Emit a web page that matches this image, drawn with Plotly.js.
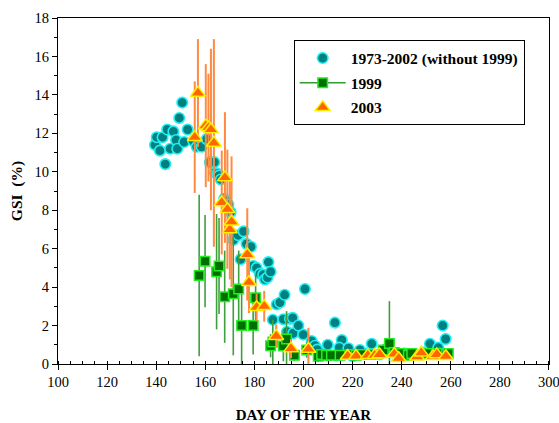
<!DOCTYPE html>
<html>
<head>
<meta charset="utf-8">
<script src="https://cdn.plot.ly/plotly-3.0.1.min.js"></script>
<style>html,body{margin:0;padding:0;background:#fff;}#chart{width:559px;height:423px;}</style>
</head>
<body>
<div id="chart"></div>
<script>
// 1973-2002 (without 1999)
var histDay = [139.5,140.2,141.5,142.6,143.7,144.5,145.7,147.0,148.1,148.6,149.4,150.6,151.4,152.8,155.1,156.5,158.5,160.6,161.9,163.7,164.0,164.9,165.6,166.3,167.7,168.3,169.4,170.3,171.4,173.4,174.4,175.6,176.8,178.6,179.5,180.9,182.3,183.6,184.3,185.3,185.7,186.6,189.1,190.4,192.3,187.5,191.8,194.5,195.6,193.3,195.8,197.9,199.9,200.6,203.3,204.7,205.6,208.0,209.9,212.8,213.5,215.6,214.6,218.3,220.0,223.0,226.0,227.8,231.0,236.0,241.0,245.0,249.0,251.5,254.9,255.5,256.7,257.9];
var histGSI = [11.4,11.8,11.1,11.8,10.4,12.2,11.2,12.1,11.65,11.2,12.8,13.6,11.55,12.2,11.6,11.3,11.3,11.7,10.5,10.5,9.95,9.9,9.8,9.6,8.6,8.5,8.3,7.9,6.45,6.7,5.45,6.9,6.25,6.1,5.1,5.0,4.7,4.65,4.4,4.5,5.3,4.8,3.1,3.2,3.6,2.3,2.33,2.35,2.4,1.68,1.6,2.0,1.53,3.9,1.2,0.95,0.75,0.5,1.0,2.15,0.45,1.25,0.85,0.82,0.4,0.73,0.55,1.05,0.5,0.6,0.55,0.5,0.6,1.05,0.85,0.55,2.0,1.3];

// 1999
var day1999 = [157.5,159.9,164.6,165.6,167.9,171.4,173.6,174.8,179.5,180.5,186.6,187.5,191.8,193.1,196.3,201.3,206.0,207.4,209.4,211.4,214.9,219.0,221.5,224.0,227.5,232.5,235.0,237.0,239.3,242.7,244.1,250.2,254.3,259.0];
var gsi1999 = [4.6,5.35,4.8,5.1,3.5,3.65,3.9,2.0,2.0,3.45,0.95,1.15,0.94,1.3,0.45,0.73,0.4,0.5,0.45,0.45,0.45,0.5,0.45,0.5,0.5,0.73,1.07,0.6,0.55,0.45,0.55,0.55,0.55,0.55];
var err1999 = [4.2,2.4,3.0,2.5,2.4,3.2,2.0,2.0,1.5,1.2,0.6,1.15,0.8,1.45,0.3,0.4,0.3,0.3,0.3,0.2,0.2,0.2,0.2,0.2,0.2,0.3,2.2,0.3,0.2,0.2,0.2,0.2,0.2,0.2];

// 2003
var day2003 = [155.7,157.0,160.2,161.3,162.3,163.5,166.7,168.0,169.0,170.0,170.7,177.1,177.8,180.9,184.0,188.9,194.9,202.0,218.0,221.4,226.2,229.0,231.0,237.0,238.8,246.3,248.0,252.8,254.3,258.0];
var gsi2003 = [11.8,14.1,12.4,12.3,12.2,11.5,8.4,9.7,8.05,7.0,7.4,5.7,4.25,2.95,3.0,1.45,0.8,0.78,0.42,0.42,0.45,0.45,0.5,0.52,0.3,0.38,0.58,0.4,0.5,0.4];
var err2003 = [2.9,2.8,3.2,2.8,4.2,5.4,2.7,3.4,3.1,2.6,3.4,2.4,1.6,0.7,0.8,0.6,0.5,1.1,0.1,0.1,0.1,0.15,0.1,0.1,0.1,0.1,0.1,0.1,0.1,0.1];

var legendNames = ['1973-2002 (without 1999)', '1999', '2003'];

var serif = 'Liberation Serif, Times New Roman, serif';

var traces = [
  {
    x: histDay, y: histGSI, type: 'scatter', mode: 'markers', name: legendNames[0],
    legendgroup: 'g1',
    marker: {symbol: 'circle', size: 10.5, color: '#008080', line: {color: '#22f0f0', width: 1.6}},
    cliponaxis: false
  },
  {
    x: day1999, y: gsi1999, type: 'scatter', mode: 'markers', name: legendNames[1], showlegend: false,
    legendgroup: 'g2',
    marker: {symbol: 'square', size: 9.5, color: '#006e00', line: {color: '#22ee22', width: 1.5}},
    error_y: {type: 'data', array: err1999, visible: true, color: '#3f9f3f', thickness: 1.6, width: 0}
  },
  {
    x: [null], y: [null], type: 'scatter', mode: 'lines+markers', name: legendNames[1],
    legendgroup: 'g2',
    line: {color: '#2e9e2e', width: 1.5},
    marker: {symbol: 'square', size: 9.5, color: '#006e00', line: {color: '#22ee22', width: 1.5}}
  },
  {
    x: day2003, y: gsi2003, type: 'scatter', mode: 'markers', name: legendNames[2],
    legendgroup: 'g3',
    marker: {symbol: 'triangle-up', size: 13, color: '#ff6600', line: {color: '#ffee00', width: 1.5}},
    error_y: {type: 'data', array: err2003, visible: true, color: '#ff8a40', thickness: 2, width: 0}
  }
];

var layout = {
  width: 559, height: 423,
  margin: {l: 58, r: 10, t: 18, b: 59},
  paper_bgcolor: '#ffffff', plot_bgcolor: '#ffffff',
  showlegend: true,
  legend: {
    x: 0.48, y: 0.935, xanchor: 'left', yanchor: 'top',
    bgcolor: '#ffffff', bordercolor: '#000000', borderwidth: 1,
    font: {family: serif, size: 15.5, color: '#000', weight: 'bold'},
    traceorder: 'grouped', tracegroupgap: 1.5, itemwidth: 46
  },
  xaxis: {
    range: [100, 300.01], tickmode: 'linear', tick0: 100, dtick: 20,
    showgrid: false, zeroline: false,
    showline: true, linecolor: '#000', linewidth: 1, mirror: true,
    ticks: 'outside', ticklen: 5, tickcolor: '#000', tickwidth: 1,
    minor: {dtick: 5, ticks: 'inside', ticklen: 3, tickcolor: '#000', showgrid: false},
    ticklabeloverflow: 'allow',
    tickfont: {family: serif, size: 14.5, color: '#000'},
    title: {text: 'DAY OF THE YEAR', font: {family: serif, size: 15, color: '#000', weight: 'bold'}, standoff: 22}
  },
  yaxis: {
    range: [0, 18], tickmode: 'linear', tick0: 0, dtick: 2,
    showgrid: false, zeroline: false,
    showline: true, linecolor: '#000', linewidth: 1, mirror: true,
    ticks: 'outside', ticklen: 5, tickcolor: '#000', tickwidth: 1,
    minor: {dtick: 1, ticks: 'outside', ticklen: 3, tickcolor: '#000', showgrid: false},
    tickfont: {family: serif, size: 14.5, color: '#000'},
    title: {text: 'GSI  (%)', font: {family: serif, size: 15.5, color: '#000', weight: 'bold'}, standoff: 8}
  }
};

Plotly.newPlot('chart', traces, layout, {displayModeBar: false, staticPlot: true});
</script>
</body>
</html>
